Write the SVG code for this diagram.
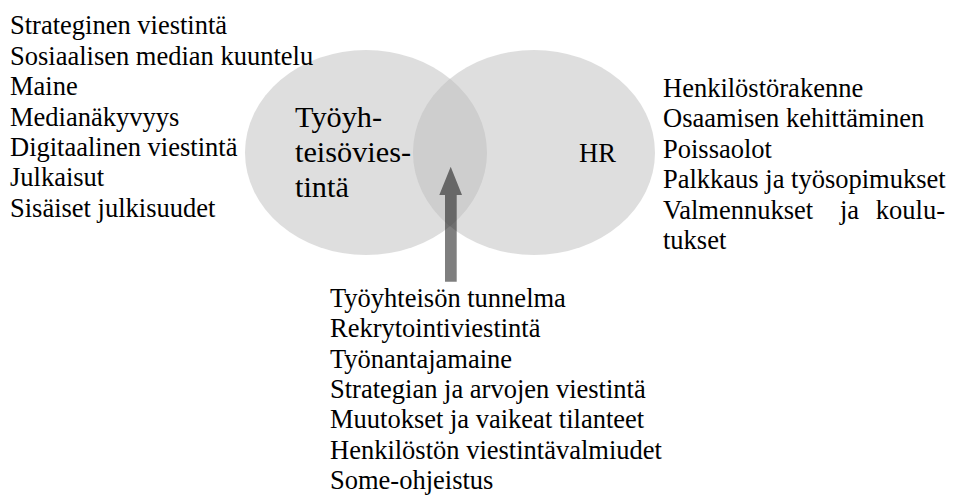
<svg xmlns="http://www.w3.org/2000/svg" width="955" height="496" viewBox="0 0 955 496">
<style>
.t{font-size:26.5px;fill:#000}
.big{font-size:30.3px;fill:#000}
.ell{fill:#bdbdbd;fill-opacity:0.5}
.arrow{fill:#000;fill-opacity:0.5}
</style>
<rect width="955" height="496" fill="#fff"/>
<g id="node-tyoyhteisoviestinta">
<ellipse class="ell" cx="366" cy="152.5" rx="121" ry="102.5"/>
</g>
<g id="node-hr">
<ellipse class="ell" cx="534" cy="152.5" rx="121" ry="102.5"/>
</g>
<g font-family="Liberation Serif, Tinos, Times New Roman, DejaVu Serif, serif">
<g id="label-tyoyhteisoviestinta">
<text class="big" x="295" y="127">Työyh-</text>
<text class="big" x="295" y="162">teisövies-</text>
<text class="big" x="295" y="197">tintä</text>
</g>
<g id="label-hr">
<text class="t" x="579" y="162.3">HR</text>
</g>
</g>
<g id="connectors">
<path class="arrow" d="M445 281.7 L445 195 L439.3 195 L450.7 166.7 L462 195 L456.7 195 L456.7 281.7 Z"/>
</g>
<g font-family="Liberation Serif, Tinos, Times New Roman, DejaVu Serif, serif">
<g id="list-left">
<text class="t" x="10" y="34.3">Strateginen viestintä</text>
<text class="t" x="10" y="64.7">Sosiaalisen median kuuntelu</text>
<text class="t" x="10" y="95.1">Maine</text>
<text class="t" x="10" y="125.5">Medianäkyvyys</text>
<text class="t" x="10" y="155.9">Digitaalinen viestintä</text>
<text class="t" x="10" y="186.3">Julkaisut</text>
<text class="t" x="10" y="216.7">Sisäiset julkisuudet</text>
</g>
<g id="list-right">
<text class="t" x="663" y="96.5">Henkilöstörakenne</text>
<text class="t" x="663" y="127">Osaamisen kehittäminen</text>
<text class="t" x="663" y="157.5">Poissaolot</text>
<text class="t" x="663" y="188">Palkkaus ja työsopimukset</text>
<text class="t" y="218.5"><tspan x="663">Valmennukset</tspan><tspan x="840">ja</tspan><tspan x="945" text-anchor="end">koulu-</tspan></text>
<text class="t" x="663" y="249">tukset</text>
</g>
<g id="list-bottom">
<text class="t" x="330" y="306.7">Työyhteisön tunnelma</text>
<text class="t" x="330" y="337.1">Rekrytointiviestintä</text>
<text class="t" x="330" y="367.5">Työnantajamaine</text>
<text class="t" x="330" y="397.9">Strategian ja arvojen viestintä</text>
<text class="t" x="330" y="428.3">Muutokset ja vaikeat tilanteet</text>
<text class="t" x="330" y="458.7">Henkilöstön viestintävalmiudet</text>
<text class="t" x="330" y="489.1">Some-ohjeistus</text>
</g>
</g>
</svg>
